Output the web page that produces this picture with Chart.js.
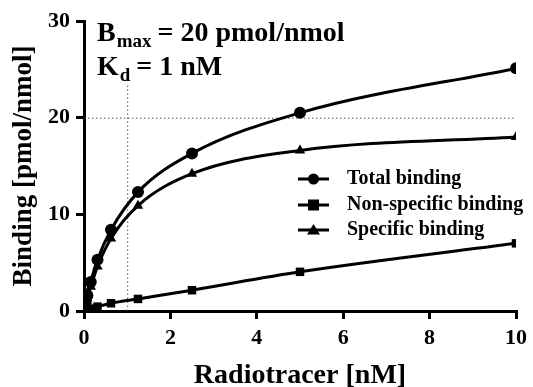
<!DOCTYPE html>
<html>
<head>
<meta charset="utf-8">
<script src="https://cdn.jsdelivr.net/npm/chart.js@4.4.1/dist/chart.umd.min.js"></script>
<style>
  html, body { margin: 0; padding: 0; background: #fff; }
  #wrap { width: 533px; height: 387px; }
</style>
</head>
<body>
<div id="wrap"><canvas id="chart" width="533" height="387"></canvas></div>
<script>
// Radiotracer concentrations (nM)
const conc = [0.039, 0.078, 0.156, 0.3125, 0.625, 1.25, 2.5, 5, 10];
// binding values (pmol/nmol)
const totalBinding = [0.8, 1.6, 3.0, 5.3, 8.4, 12.3, 16.3, 20.5, 25.1];
const nonSpecific = [0.05, 0.1, 0.25, 0.45, 0.8, 1.25, 2.15, 4.05, 7.0];
const specificBinding = [0.7, 1.3, 2.5, 4.6, 7.5, 10.9, 14.2, 16.6, 18.0];
const xTicks = [0, 2, 4, 6, 8, 10];
const yTicks = [0, 10, 20, 30];
const bmax = 20;
const kd = 1;

const font = 'Liberation Serif, Times New Roman, serif';

function pts(ys) {
  return conc.map((x, i) => ({ x: x, y: ys[i] }));
}

function series(label, ys, style) {
  return {
    label: label,
    data: pts(ys),
    borderColor: '#000',
    backgroundColor: '#000',
    borderWidth: 3,
    pointStyle: style,
    pointRadius: 6,
    pointBorderWidth: 0,
    cubicInterpolationMode: 'monotone',
    fill: false
  };
}

// dotted guide lines, annotation text and legend
const extras = {
  id: 'extras',
  beforeDatasetsDraw(chart) {
    const ctx = chart.ctx;
    const xs = chart.scales.x, ys = chart.scales.y;
    ctx.save();
    ctx.strokeStyle = '#555';
    ctx.lineWidth = 1;
    ctx.setLineDash([1.5, 2.5]);
    ctx.beginPath();
    ctx.moveTo(xs.getPixelForValue(0), ys.getPixelForValue(bmax) + 0.5);
    ctx.lineTo(xs.getPixelForValue(10), ys.getPixelForValue(bmax) + 0.5);
    ctx.moveTo(xs.getPixelForValue(kd) + 0.5, ys.getPixelForValue(0));
    ctx.lineTo(xs.getPixelForValue(kd) + 0.5, ys.getPixelForValue(23.6));
    ctx.stroke();
    ctx.restore();
  },
  afterDraw(chart) {
    const ctx = chart.ctx;
    ctx.save();
    ctx.fillStyle = '#000';
    ctx.textBaseline = 'alphabetic';
    ctx.textAlign = 'left';
    const x0 = 97;
    // Bmax
    ctx.font = 'bold 28px ' + font;
    ctx.fillText('B', x0, 41);
    let w = ctx.measureText('B').width;
    ctx.font = 'bold 19px ' + font;
    ctx.fillText('max', x0 + w + 1, 47);
    let w2 = ctx.measureText('max').width;
    ctx.font = 'bold 28px ' + font;
    ctx.fillText(' = ' + bmax + ' pmol/nmol', x0 + w + w2, 41);
    // Kd
    ctx.fillText('K', x0, 75);
    w = ctx.measureText('K').width;
    ctx.font = 'bold 19px ' + font;
    ctx.fillText('d', x0 + w + 1, 81);
    w2 = ctx.measureText('d').width;
    ctx.font = 'bold 28px ' + font;
    ctx.fillText(' = ' + kd + ' nM', x0 + w + w2, 75);

    // legend
    const rows = [179, 205, 230];
    chart.data.datasets.forEach((ds, i) => {
      const y = rows[i];
      ctx.strokeStyle = '#000';
      ctx.fillStyle = '#000';
      ctx.lineWidth = 3;
      ctx.setLineDash([]);
      ctx.beginPath();
      ctx.moveTo(298, y);
      ctx.lineTo(329, y);
      ctx.stroke();
      ctx.beginPath();
      if (ds.pointStyle === 'circle') {
        ctx.arc(313.5, y, 5.5, 0, Math.PI * 2);
      } else if (ds.pointStyle === 'rect') {
        ctx.rect(308, y - 5.5, 11, 11);
      } else {
        ctx.moveTo(313.5, y - 6);
        ctx.lineTo(320, y + 4.5);
        ctx.lineTo(307, y + 4.5);
        ctx.closePath();
      }
      ctx.fill();
      ctx.font = 'bold 20px ' + font;
      ctx.textBaseline = 'middle';
      ctx.fillText(ds.label, 347, y);
    });
    ctx.restore();
  }
};

new Chart(document.getElementById('chart').getContext('2d'), {
  type: 'line',
  data: {
    datasets: [
      series('Total binding', totalBinding, 'circle'),
      series('Non-specific binding', nonSpecific, 'rect'),
      series('Specific binding', specificBinding, 'triangle')
    ]
  },
  options: {
    responsive: false,
    animation: false,
    layout: { padding: { top: 21, right: 15, left: 0, bottom: 0 } },
    plugins: { legend: { display: false }, tooltip: { enabled: false } },
    scales: {
      x: {
        type: 'linear',
        min: 0,
        max: 10,
        afterBuildTicks(s) { s.ticks = xTicks.map(v => ({ value: v })); },
        afterFit(s) { s.height = 76; },
        border: { color: '#000', width: 3 },
        grid: { drawOnChartArea: false, color: '#000', lineWidth: 3, tickLength: 8 },
        ticks: { color: '#000', font: { family: font, size: 22, weight: 'bold' }, padding: 6, maxRotation: 0 },
        title: { display: true, text: 'Radiotracer [nM]', color: '#000', font: { family: font, size: 28, weight: 'bold', lineHeight: 0.8 }, padding: { top: 0, bottom: 0 } }
      },
      y: {
        min: 0,
        max: 30,
        afterBuildTicks(s) { s.ticks = yTicks.map(v => ({ value: v })); },
        afterFit(s) { s.width = 84; },
        border: { color: '#000', width: 3 },
        grid: { drawOnChartArea: false, color: '#000', lineWidth: 3, tickLength: 8 },
        ticks: { color: '#000', font: { family: font, size: 22, weight: 'bold' }, padding: 6 },
        title: { display: true, text: 'Binding [pmol/nmol]', color: '#000', font: { family: font, size: 27, weight: 'bold' }, padding: { top: 8, bottom: 0 } }
      }
    }
  },
  plugins: [extras]
});
</script>
</body>
</html>
